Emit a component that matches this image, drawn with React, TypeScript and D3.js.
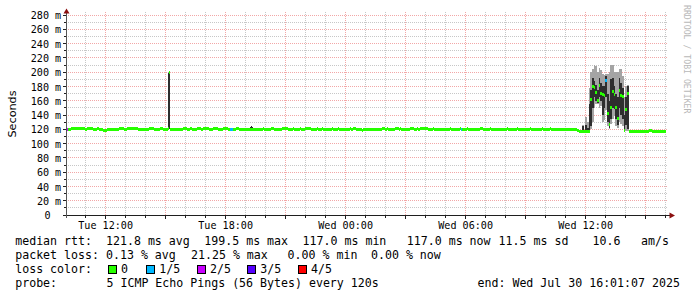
import React from 'react';
import * as d3 from 'd3';

// ---------- data ----------
const START = Date.UTC(2025, 6, 29, 10, 1, 7);
const END = Date.UTC(2025, 6, 30, 16, 1, 7);
const STEP_MS = 180 * 1000; // one pixel column (3 min)
const BURST_STEP_MS = 300 * 1000; // RRD step in the burst (5 min)

const yTickValues = [0, 20, 40, 60, 80, 100, 120, 140, 160, 180, 200, 220, 240, 260, 280];
const yMinorValues = [10, 30, 50, 70, 90, 110, 130, 150, 170, 190, 210, 230, 250, 270];

const lossLabels = ['0', '1/5', '2/5', '3/5', '4/5'];
const lossColors = ['#26ff00', '#00b8ff', '#c800ff', '#5500ff', '#ff0000'];

// median runs: [fromStep, toStep, median ms, loss index]  (3-min steps from start)
const medianRuns: [number, number, number, number][] = [
  [0, 2, 119.3, 2], [2, 5, 120.0, 0], [5, 19, 121.5, 0], [19, 21, 120.0, 0], [21, 27, 121.5, 0],
  [27, 31, 120.0, 0], [31, 33, 121.5, 0], [33, 37, 120.0, 0], [37, 41, 119.0, 0], [41, 53, 120.0, 0],
  [53, 58, 121.5, 0], [58, 61, 120.0, 0], [61, 72, 121.5, 0], [72, 83, 120.0, 0], [83, 88, 121.5, 0],
  [88, 94, 120.0, 0], [94, 97, 121.5, 0], [97, 102, 120.0, 0],
  [104, 117, 120.0, 0], [117, 121, 121.5, 0], [121, 124, 120.0, 0], [124, 126, 121.5, 0],
  [126, 131, 120.0, 0], [131, 135, 121.5, 0], [135, 137, 120.0, 0], [137, 143, 121.5, 0],
  [143, 147, 120.0, 0], [147, 152, 121.5, 0], [152, 157, 120.0, 0], [157, 162, 121.5, 0],
  [162, 164, 120.0, 0], [164, 167, 119.5, 1], [167, 170, 120.0, 0], [170, 173, 121.5, 0],
  [173, 197, 120.0, 0], [197, 198, 121.5, 0], [198, 205, 120.0, 0], [205, 208, 121.5, 0],
  [208, 216, 120.0, 0], [216, 222, 121.5, 0], [222, 227, 120.0, 0], [227, 228, 121.5, 0],
  [228, 234, 120.0, 0], [234, 235, 121.5, 0], [235, 239, 120.0, 0], [239, 245, 121.5, 0],
  [245, 251, 120.0, 0], [251, 252, 121.5, 0], [252, 256, 120.0, 0], [256, 257, 121.5, 0],
  [257, 266, 120.0, 0], [266, 267, 121.5, 0], [267, 272, 120.0, 0], [272, 273, 121.5, 0],
  [273, 284, 120.0, 0], [284, 285, 121.5, 0], [285, 287, 120.0, 0], [287, 290, 121.5, 0],
  [290, 296, 120.0, 0], [296, 297, 118.8, 0], [297, 316, 120.0, 0], [316, 319, 121.5, 0],
  [319, 321, 120.0, 0], [321, 322, 121.5, 0], [322, 329, 120.0, 0], [329, 333, 121.5, 0],
  [333, 334, 120.0, 0], [334, 335, 121.5, 0], [335, 344, 120.0, 0], [344, 348, 121.5, 0],
  [348, 351, 120.0, 0], [351, 352, 121.5, 0], [352, 354, 120.0, 0], [354, 362, 121.5, 0],
  [362, 367, 120.0, 0], [367, 368, 121.5, 0], [368, 384, 120.0, 0], [384, 385, 121.5, 0],
  [385, 394, 120.0, 0], [394, 395, 121.5, 0], [395, 396, 120.0, 1], [396, 401, 120.0, 0],
  [401, 402, 121.5, 0], [402, 414, 120.0, 0], [414, 417, 121.5, 0], [417, 424, 120.0, 0],
  [424, 425, 121.5, 0], [425, 441, 120.0, 0], [441, 442, 121.5, 0], [442, 451, 120.0, 0],
  [451, 452, 121.5, 0], [452, 464, 120.0, 0], [464, 465, 121.5, 0], [465, 476, 120.0, 0],
  [476, 477, 121.5, 0], [477, 484, 120.0, 0], [484, 485, 121.5, 0], [485, 511, 120.0, 0],
  [563, 568, 117.4, 0], [568, 571, 117.0, 0], [571, 575, 117.6, 0], [575, 583, 117.1, 0],
  [583, 586, 117.7, 0], [586, 594, 117.1, 0], [594, 597, 117.6, 0], [597, 600, 117.0, 0],
];

// burst period (Wed ~11:34 - 14:09), one value per 5-min RRD step
const burstFromMin = 1533;
const burstMedian = [
  118.0, 117.3, 117.3, 117.3, 117.3, 117.5, 117.5, 117.5, 162, 180, 178, 172, 160, 182, 170, 169,
  168, 188, 142, 127, 150, 173, 169, 150, 135.5, 175, 167, 165.6, 118.5, 148, 170, 117.2,
];
const burstLoss = [
  0, 0, 0, 0, 0, 0, 0, 0, 0, 0, 0, 0, 0, 0, 0, 0, 0, 1, 0, 0, 0, 0, 0, 0, 0, 0, 0, 0, 0, 0, 0, 0,
];
const burstPing1 = [
  118.0, 117.3, 117.3, 117.3, 117.3, 117.5, 117.5, 117.5, 120, 130, 150, 155, 155, 150, 152, 130,
  133, 147, 125, 120, 128, 135, 138, 125, 122, 130, 128, 125, 117.5, 118, 117.5, 117.2,
];
const burstPing2 = [
  118.0, 117.3, 117.3, 117.3, 117.3, 117.5, 117.5, 118, 125, 150, 165, 160, 157, 165, 160, 140,
  150, 165, 130, 122, 135, 150, 148, 135, 126, 150, 140, 135, 118, 126, 120, 117.2,
];
const burstPing4 = [
  118.0, 117.3, 117.3, 124, 117.3, 126, 122, 156, 175, 192, 188, 182, 175, 192, 185, 180,
  180, 194, 170, 160, 190, 192, 180, 170, 165, 192, 185, 178, 140, 165, 180, 117.2,
];
const burstPing5 = [
  118.0, 117.3, 117.3, 126, 117.3, 137, 130, 178, 200, 205, 210, 208, 200, 206, 203, 198,
  196, 198, 198, 200, 210, 210, 200, 200, 200, 205, 205, 195, 165, 180, 182, 117.2,
];

// isolated 3-min steps with smoke
const isoStep = [102, 103, 184, 185, 186];
const isoMedian = [120.5, 199.5, 120.0, 120.0, 120.0];
const isoLoss = [0, 0, 0, 0, 0];
const isoPing1 = [120, 120, 120, 120, 120];
const isoPing2 = [120.2, 120.5, 120, 120, 120];
const isoPing4 = [199, 199.5, 123.5, 124, 123.5];
const isoPing5 = [200, 200, 123.5, 124, 123.5];

const rttLabel = 'median rtt:';
const rttStats = ['121.8 ms avg', '199.5 ms max', '117.0 ms min', '117.0 ms now', '11.5 ms sd', '10.6', 'am/s'];
const lossLabel = 'packet loss:';
const lossStats = ['0.13 % avg', '21.25 % max', '0.00 % min', '0.00 % now'];
const colorLabel = 'loss color:';
const probeLabel = 'probe:';
const probeText = '5 ICMP Echo Pings (56 Bytes) every 120s';
const endText = 'end: Wed Jul 30 16:01:07 2025';
const yTitle = 'Seconds';
const watermark = 'RRDTOOL / TOBI OETIKER';

// ---------- layout ----------
const W = 697;
const H = 297;
const MONO = '"DejaVu Sans Mono", monospace';
const rttX = [106, 204.3, 302.6, 406.8, 498.6, 592.6, 641];
const lossX = [106, 191, 287.6, 371];
const legendLabelX = [121, 159.3, 210, 260.3, 311];

type Col = { t0: number; t1: number; med: number; loss: number; p1: number; p2: number; p4: number; p5: number };

export default function App() {
  const x = d3.scaleUtc().domain([new Date(START), new Date(END)]).range([66, 666]);
  const y = d3.scaleLinear().domain([0, 280]).range([215, 15]);
  const tAt = (s: number) => new Date(START + s * STEP_MS);

  const cols: Col[] = [];
  burstMedian.forEach((m, i) => {
    const t0 = START + burstFromMin * 60000 + i * BURST_STEP_MS;
    cols.push({ t0, t1: t0 + BURST_STEP_MS, med: m, loss: burstLoss[i], p1: burstPing1[i], p2: burstPing2[i], p4: burstPing4[i], p5: burstPing5[i] });
  });
  isoStep.forEach((s, i) => {
    const t0 = START + s * STEP_MS;
    cols.push({ t0, t1: t0 + STEP_MS, med: isoMedian[i], loss: isoLoss[i], p1: isoPing1[i], p2: isoPing2[i], p4: isoPing4[i], p5: isoPing5[i] });
  });

  const hours = d3.utcHour.range(new Date(START), new Date(END));
  const px = (v: number) => Math.floor(v) + 0.5;

  const gridMinor = '#8f8f8f';
  const gridMajor = '#e85f5f';

  return (
    <svg width={W} height={H} style={{ position: 'absolute', left: 0, top: 0, background: '#fff' }}>
      <rect x={0} y={0} width={W} height={H} fill="#ffffff" />
      {/* horizontal grid */}
      {yMinorValues.map((v) => (
        <line key={'hm' + v} x1={66} x2={668} y1={px(y(v))} y2={px(y(v))} stroke={gridMinor} strokeOpacity={0.5} strokeDasharray="1,1" />
      ))}
      {yTickValues.filter((v) => v > 0).map((v) => (
        <line key={'hM' + v} x1={66} x2={668} y1={px(y(v))} y2={px(y(v))} stroke={gridMajor} strokeOpacity={0.55} strokeDasharray="1,1" />
      ))}
      {/* vertical grid */}
      {hours.map((h) => {
        const major = h.getUTCHours() % 3 === 0;
        const xx = px(x(h));
        return (
          <line key={'v' + h.getTime()} x1={xx} x2={xx} y1={12} y2={215} stroke={major ? gridMajor : gridMinor} strokeOpacity={major ? 0.55 : 0.5} strokeDasharray="1,1" />
        );
      })}

      {/* smoke */}
      <g shapeRendering="crispEdges">
        {cols.map((c) => {
          const x0 = x(new Date(c.t0));
          const w = x(new Date(c.t1)) - x0;
          return (
            <g key={'s' + c.t0}>
              {c.p5 > c.p1 && <rect x={x0} width={w} y={y(c.p5)} height={Math.max(1, y(c.p1) - y(c.p5))} fill="#a4a4a4" />}
              {c.p4 > c.p2 && <rect x={x0} width={w} y={y(c.p4)} height={Math.max(1, y(c.p2) - y(c.p4))} fill="#2e2e2e" />}
            </g>
          );
        })}
        {/* medians */}
        {medianRuns.map(([a, b, m, l]) => {
          const x0 = x(tAt(a));
          return <rect key={'m' + a} x={x0} width={x(tAt(b)) - x0} y={y(m) - 1.5} height={3} fill={lossColors[l]} />;
        })}
        {cols.map((c) => {
          const x0 = x(new Date(c.t0));
          return <rect key={'cm' + c.t0} x={x0} width={x(new Date(c.t1)) - x0} y={y(c.med) - 1.5} height={3} fill={lossColors[c.loss]} />;
        })}
      </g>

      {/* axes */}
      <g shapeRendering="crispEdges">
        <line x1={63} x2={670} y1={215.5} y2={215.5} stroke="#1f1f1f" />
        <line x1={66.5} x2={66.5} y1={12} y2={218} stroke="#555" />
        {yTickValues.map((v) => (
          <line key={'yt' + v} x1={62.5} x2={66} y1={px(y(v))} y2={px(y(v))} stroke="#1f1f1f" />
        ))}
        {yMinorValues.map((v) => (
          <line key={'ytm' + v} x1={64} x2={66} y1={px(y(v))} y2={px(y(v))} stroke="#1f1f1f" />
        ))}
        {hours.map((h) => {
          const major = h.getUTCHours() % 3 === 0;
          const xx = px(x(h));
          return <line key={'xt' + h.getTime()} x1={xx} x2={xx} y1={216} y2={major ? 218.5 : 217.5} stroke="#1f1f1f" />;
        })}
      </g>
      {/* arrows */}
      <polygon points="66.5,8.5 63.5,13.5 69.5,13.5" fill="#8b1010" />
      <polygon points="675,215.5 669.5,212.5 669.5,218.5" fill="#8b1010" />

      {/* tick labels */}
      <g fontFamily={MONO} fontSize={10.1} fill="#000">
        {yTickValues.map((v) => (
          <text key={'yl' + v} x={v === 0 ? 50.5 : 61.2} y={y(v) + 4.2} textAnchor="end">
            {v === 0 ? '0' : `${v} m`}
          </text>
        ))}
        {hours
          .filter((h) => h.getUTCHours() % 6 === 0)
          .map((h) => (
            <text key={'xl' + h.getTime()} x={x(h)} y={228.5} textAnchor="middle">
              {d3.utcFormat('%a %H:%M')(h)}
            </text>
          ))}
      </g>

      {/* y title */}
      <text x={15.5} y={114} transform="rotate(-90 15.5 114)" textAnchor="middle" fontFamily='"DejaVu Sans", sans-serif' fontSize={11.2} fill="#000">
        {yTitle}
      </text>

      {/* watermark */}
      <text x={684} y={5} transform="rotate(90 684 5)" fontFamily={MONO} fontSize={8.2} fill="#b8b8b8">
        {watermark}
      </text>

      {/* legend */}
      <g fontFamily={MONO} fontSize={11.6} fill="#000" style={{ whiteSpace: 'pre' }}>
        <text x={15.2} y={245.3}>{rttLabel}</text>
        {rttStats.map((s, i) => (
          <text key={'r' + i} x={rttX[i]} y={245.3}>{s}</text>
        ))}
        <text x={15.2} y={259.2}>{lossLabel}</text>
        {lossStats.map((s, i) => (
          <text key={'l' + i} x={lossX[i]} y={259.2}>{s}</text>
        ))}
        <text x={15.2} y={273.1}>{colorLabel}</text>
        {lossLabels.map((s, i) => (
          <g key={'lc' + i}>
            <rect x={legendLabelX[i] - 12.5} y={265.5} width={8} height={8} fill={lossColors[i]} stroke="#000" shapeRendering="crispEdges" />
            <text x={legendLabelX[i]} y={273.1}>{s}</text>
          </g>
        ))}
        <text x={15.2} y={287}>{probeLabel}</text>
        <text x={106.5} y={287}>{probeText}</text>
        <text x={477.5} y={287}>{endText}</text>
      </g>
    </svg>
  );
}
